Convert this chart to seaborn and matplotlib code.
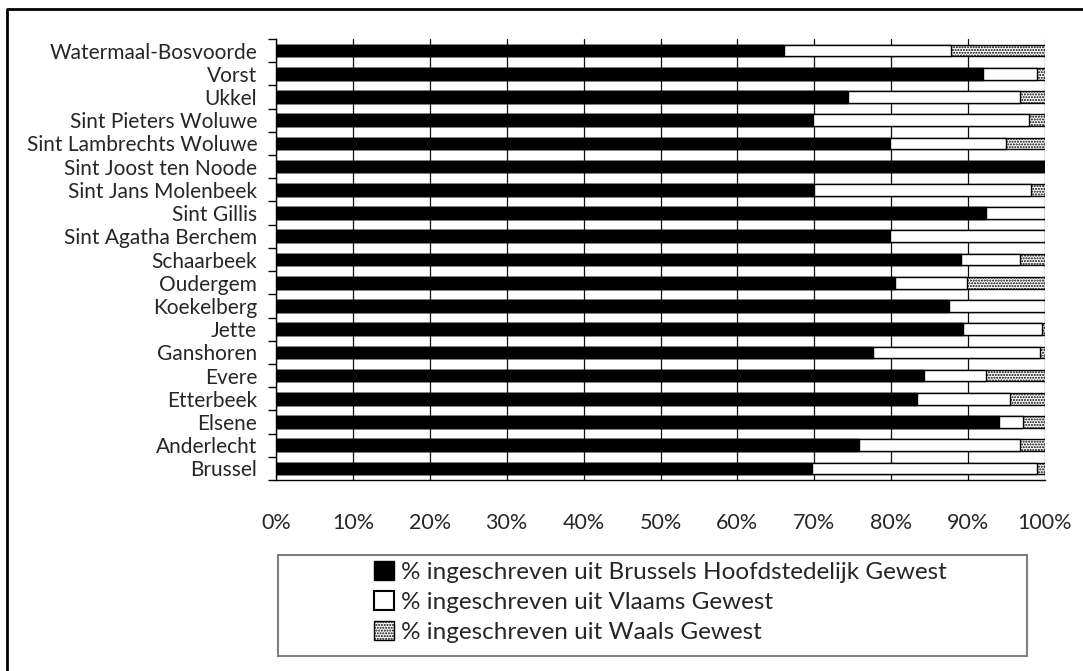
import numpy as np
import pandas as pd
import seaborn as sns
import matplotlib.pyplot as plt
from matplotlib.patches import Patch, Rectangle
from matplotlib.lines import Line2D
from matplotlib.ticker import FixedLocator, FuncFormatter

# Data (top to bottom)
gemeenten = ['Watermaal-Bosvoorde', 'Vorst', 'Ukkel', 'Sint Pieters Woluwe',
             'Sint Lambrechts Woluwe', 'Sint Joost ten Noode', 'Sint Jans Molenbeek',
             'Sint Gillis', 'Sint Agatha Berchem', 'Schaarbeek', 'Oudergem',
             'Koekelberg', 'Jette', 'Ganshoren', 'Evere', 'Etterbeek', 'Elsene',
             'Anderlecht', 'Brussel']
pct_brussel = [66.1, 92.0, 74.4, 69.8, 79.8, 100.0, 70.0, 92.3, 79.8, 89.1, 80.5,
               87.5, 89.4, 77.6, 84.3, 83.4, 94.0, 75.8, 69.7]
pct_vlaams = [21.7, 6.9, 22.3, 28.1, 15.1, 0.0, 28.2, 7.7, 20.2, 7.6, 9.4,
              12.5, 10.2, 21.8, 8.0, 12.0, 3.2, 20.9, 29.3]
pct_waals = [12.2, 1.1, 3.3, 2.1, 5.1, 0.0, 1.8, 0.0, 0.0, 3.3, 10.1,
             0.0, 0.4, 0.6, 7.7, 4.6, 2.8, 3.3, 1.0]
legend_labels = ['% ingeschreven uit Brussels Hoofdstedelijk Gewest',
                 '% ingeschreven uit Vlaams Gewest',
                 '% ingeschreven uit Waals Gewest']
x_ticks = [0, 10, 20, 30, 40, 50, 60, 70, 80, 90, 100]

sns.set_style('white')
plt.rcParams['font.family'] = ['Lato', 'DejaVu Sans']
plt.rcParams['hatch.linewidth'] = 1.0

df = pd.DataFrame({'gemeente': gemeenten, 'brussel': pct_brussel,
                   'vlaams': pct_vlaams, 'waals': pct_waals})
df['cum_vl'] = df['brussel'] + df['vlaams']
df['cum_wa'] = df['cum_vl'] + df['waals']

fig = plt.figure(figsize=(10.83, 6.71), dpi=100)
W, H = 1083, 671
ax = fig.add_axes([276 / W, 1 - 480 / H, (1045 - 276) / W, (480 - 39) / H])

# stacked bars drawn as overlapping cumulative totals
sns.barplot(data=df, x='cum_wa', y='gemeente', orient='h', color='white',
            edgecolor='black', linewidth=1, width=0.5, hatch='......', ax=ax,
            zorder=3)
sns.barplot(data=df, x='cum_vl', y='gemeente', orient='h', color='white',
            edgecolor='black', linewidth=1, width=0.5, ax=ax, zorder=3)
sns.barplot(data=df, x='brussel', y='gemeente', orient='h', color='black',
            edgecolor='black', linewidth=1, width=0.5, ax=ax, zorder=3)

ax.set_xlim(0, 100)
ax.set_ylim(len(gemeenten) - 0.5, -0.5)
ax.set_xlabel('')
ax.set_ylabel('')
for s in ['top', 'right']:
    ax.spines[s].set_visible(False)
for s in ['left', 'bottom']:
    ax.spines[s].set_color('black')
    ax.spines[s].set_linewidth(1)

ax.xaxis.set_major_locator(FixedLocator(x_ticks))
ax.xaxis.set_major_formatter(FuncFormatter(lambda v, p: f'{v:.0f}%'))
ax.tick_params(axis='x', which='major', direction='out', length=5.8, width=1,
               color='black', pad=18, labelsize=15.5)
ax.grid(axis='x', color='#111111', linewidth=0.9, zorder=0)
ax.set_axisbelow(True)

ax.yaxis.set_minor_locator(FixedLocator(np.arange(-0.5, len(gemeenten), 1.0)))
ax.tick_params(axis='y', which='major', length=0, pad=13.5, labelsize=15)
ax.tick_params(axis='y', which='minor', direction='out', length=5.8, width=1,
               color='black', left=True)

# legend with a wide grey frame
fig.add_artist(Rectangle((278 / W, 1 - 656 / H), (1027 - 278) / W, (656 - 555) / H,
                         transform=fig.transFigure, facecolor='none',
                         edgecolor='#808080', linewidth=1.5))
handles = [Patch(facecolor='black', edgecolor='black'),
           Patch(facecolor='white', edgecolor='black', linewidth=1.5),
           Patch(facecolor='white', edgecolor='black', hatch='......')]
fig.legend(handles, legend_labels, loc='upper left',
           bbox_to_anchor=(374 / W, 1 - 561 / H), bbox_transform=fig.transFigure,
           frameon=False, fontsize=17.5, handlelength=0.82, handleheight=0.82,
           handletextpad=0.3, labelspacing=0.33, borderpad=0, borderaxespad=0)

# outer frame (cropped at right and bottom)
fig.add_artist(Line2D([7 / W, 7 / W, 1.0], [0.0, 1 - 9 / H, 1 - 9 / H],
                      transform=fig.transFigure, color='black', linewidth=2))

fig.savefig('out.png', dpi=100)
